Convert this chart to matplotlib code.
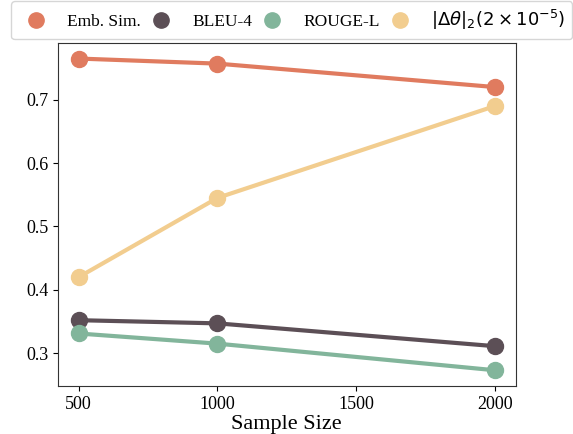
import matplotlib.pyplot as plt
from matplotlib.lines import Line2D

plt.rcParams['font.family'] = ['Liberation Serif', 'DejaVu Serif']
plt.rcParams['mathtext.fontset'] = 'dejavusans'

sample_sizes = [500, 1000, 2000]
emb_sim = [0.765, 0.757, 0.720]
bleu4 = [0.352, 0.347, 0.311]
rouge_l = [0.331, 0.315, 0.273]
delta_theta = [0.420, 0.545, 0.690]

labels = ['Emb. Sim.', 'BLEU-4', 'ROUGE-L', r'$|\Delta\theta|_2(2\times10^{-5})$']
colors = ['#E07B5F', '#5C4F56', '#82B59B', '#F2CD8F']
series = [emb_sim, bleu4, rouge_l, delta_theta]

fig = plt.figure(figsize=(5.73, 4.34), dpi=100)
ax = fig.add_axes([0.101, 0.111, 0.799, 0.79])

for vals, c in zip(series, colors):
    ax.plot(sample_sizes, vals, color=c, linewidth=3, marker='o', markersize=11.5)

ax.set_xticks([500, 1000, 1500, 2000])
ax.set_yticks([0.3, 0.4, 0.5, 0.6, 0.7])
ax.tick_params(labelsize=13)
ax.set_xlabel('Sample Size', fontsize=16, labelpad=2)
for s in ax.spines.values():
    s.set_color('#333333')

handles = [Line2D([], [], color=c, marker='o', linestyle='none', markersize=11) for c in colors]
leg = fig.legend(handles, labels, loc='upper left', bbox_to_anchor=(0.02, 0.997), ncol=4,
                 fontsize=12.5, frameon=True, handlelength=2.0, handletextpad=0.8,
                 columnspacing=0.15, borderaxespad=0.0, borderpad=0.4)
leg.texts[3].set_fontsize(13)

fig.savefig('out.png', dpi=100)
